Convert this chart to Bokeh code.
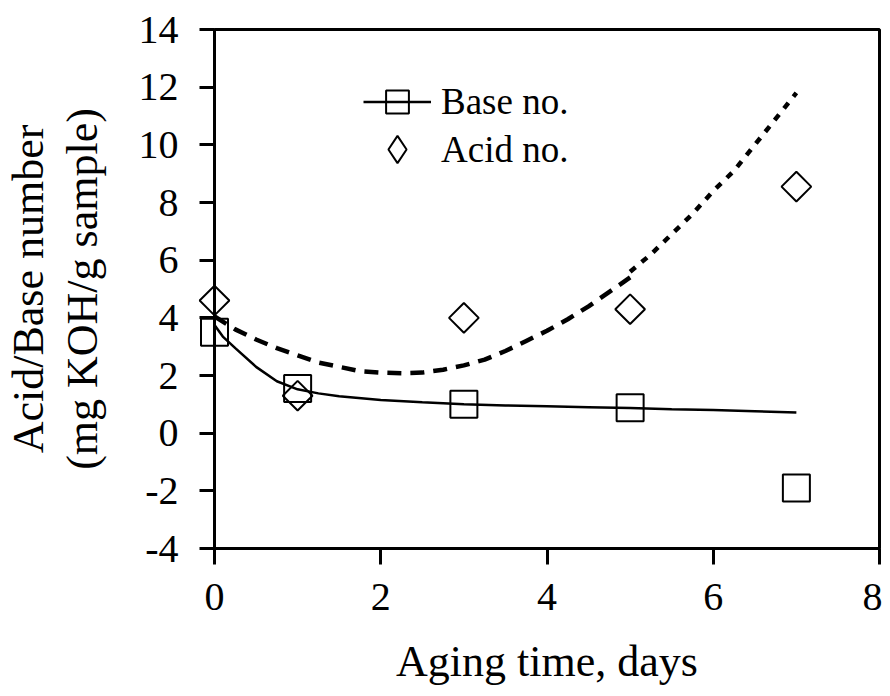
import math
from bokeh.plotting import figure
from bokeh.models import Range1d, FixedTicker, Legend, LegendItem
from bokeh.embed import file_html
from bokeh.resources import INLINE

# measured data
days = [0, 1, 3, 5, 7]
base_no = [3.5, 1.55, 1.0, 0.88, -1.9]
acid_no = [4.6, 1.3, 4.0, 4.3, 8.55]

# fitted curves
base_fit_x = [0, 0.1, 0.25, 0.5, 0.75, 1, 1.25, 1.5, 2, 2.5, 3, 3.5, 4, 4.5, 5, 5.5, 6, 6.5, 7]
base_fit_y = [3.75, 3.35, 2.95, 2.3, 1.8, 1.52, 1.38, 1.28, 1.15, 1.07, 1.0, 0.96, 0.93, 0.9, 0.87, 0.83, 0.8, 0.76, 0.72]

acid_fit_x1 = [0, 0.25, 0.5, 0.75, 1, 1.25, 1.5, 1.75, 2, 2.25, 2.5, 2.75, 3, 3.25, 3.5, 3.75, 4, 4.25, 4.5, 4.75, 5]
acid_fit_y1 = [4.05, 3.6, 3.25, 2.95, 2.7, 2.45, 2.3, 2.15, 2.1, 2.08, 2.1, 2.2, 2.35, 2.55, 2.85, 3.2, 3.55, 3.95, 4.4, 4.9, 5.4]
acid_fit_x2 = [5, 5.25, 5.5, 5.75, 6, 6.25, 6.5, 6.75, 7]
acid_fit_y2 = [5.6, 6.2, 6.9, 7.6, 8.4, 9.1, 10.0, 10.9, 11.8]

x_ticks = [0, 2, 4, 6, 8]
y_ticks = [-4, -2, 0, 2, 4, 6, 8, 10, 12, 14]
y_tick_labels = {t: str(t) for t in y_ticks}

FONT = "Liberation Serif"

p = figure(width=882, height=688, output_backend="svg", toolbar_location=None,
           x_range=Range1d(0, 8), y_range=Range1d(-4, 14),
           min_border_left=213, min_border_right=3, min_border_top=29, min_border_bottom=135)
p.background_fill_color = "white"
p.border_fill_color = "white"
p.outline_line_color = "black"
p.outline_line_width = 3
p.grid.visible = False

for ax in (p.xaxis[0], p.yaxis[0]):
    ax.axis_line_width = 3
    ax.axis_line_color = "black"
    ax.major_tick_line_width = 3
    ax.major_tick_in = 0
    ax.minor_tick_line_color = None
    ax.major_label_text_font = FONT
    ax.major_label_text_font_size = "40px"
    ax.major_label_text_color = "black"
    ax.axis_label_text_font = FONT
    ax.axis_label_text_font_size = "44px"
    ax.axis_label_text_font_style = "normal"
    ax.axis_label_text_color = "black"
    ax.axis_label_text_line_height = 1.1

p.xaxis.ticker = FixedTicker(ticks=x_ticks)
p.yaxis.ticker = FixedTicker(ticks=y_ticks)
p.yaxis.major_label_overrides = y_tick_labels
p.xaxis.major_tick_out = 16
p.yaxis.major_tick_out = 15
p.xaxis.major_label_standoff = 19
p.yaxis.major_label_standoff = 21
p.xaxis.axis_label = "Aging time, days"
p.yaxis.axis_label = "Acid/Base number\n(mg KOH/g sample)"
p.xaxis.axis_label_standoff = 24
p.yaxis.axis_label_standoff = 29

# fits
base_line = p.line(base_fit_x, base_fit_y, line_color="black", line_width=2.5)
p.line(acid_fit_x1, acid_fit_y1, line_color="black", line_width=4.5, line_dash="14 9")
p.line(acid_fit_x2, acid_fit_y2, line_color="black", line_width=4.5, line_dash="7 8")

# data points (overlay level so markers on the axis are not cut)
base_pts = p.scatter(days, base_no, marker="square", size=27, line_color="black",
                     line_width=2, fill_alpha=0, level="overlay")
acid_pts = p.scatter(days, acid_no, marker="square", angle=math.pi / 4, size=21,
                     line_color="black", line_width=2, fill_alpha=0, level="overlay")
# legend-only glyph for the acid series (legend glyphs are never rotated);
# a single NaN point keeps it out of the plot area
acid_key = p.scatter([float("nan")], [float("nan")], marker="diamond",
                     line_color="black", line_width=2, fill_alpha=0)


def make_legend(items, glyph_h, loc):
    lg = Legend(items=items, location=loc)
    lg.label_text_font = FONT
    lg.label_text_font_size = "37px"
    lg.label_text_color = "black"
    lg.glyph_width = 68
    lg.glyph_height = glyph_h
    lg.label_height = 40
    lg.label_standoff = 10
    lg.spacing = 0
    lg.padding = 10
    lg.margin = 0
    lg.border_line_alpha = 0
    lg.background_fill_alpha = 0
    return lg


p.add_layout(make_legend([LegendItem(label="Base no.", renderers=[base_line, base_pts])],
                         57, (139, 408)), "center")
p.add_layout(make_legend([LegendItem(label="Acid no.", renderers=[acid_key])],
                         70, (139, 354)), "center")

open("out.html", "w").write(file_html(p, INLINE))
